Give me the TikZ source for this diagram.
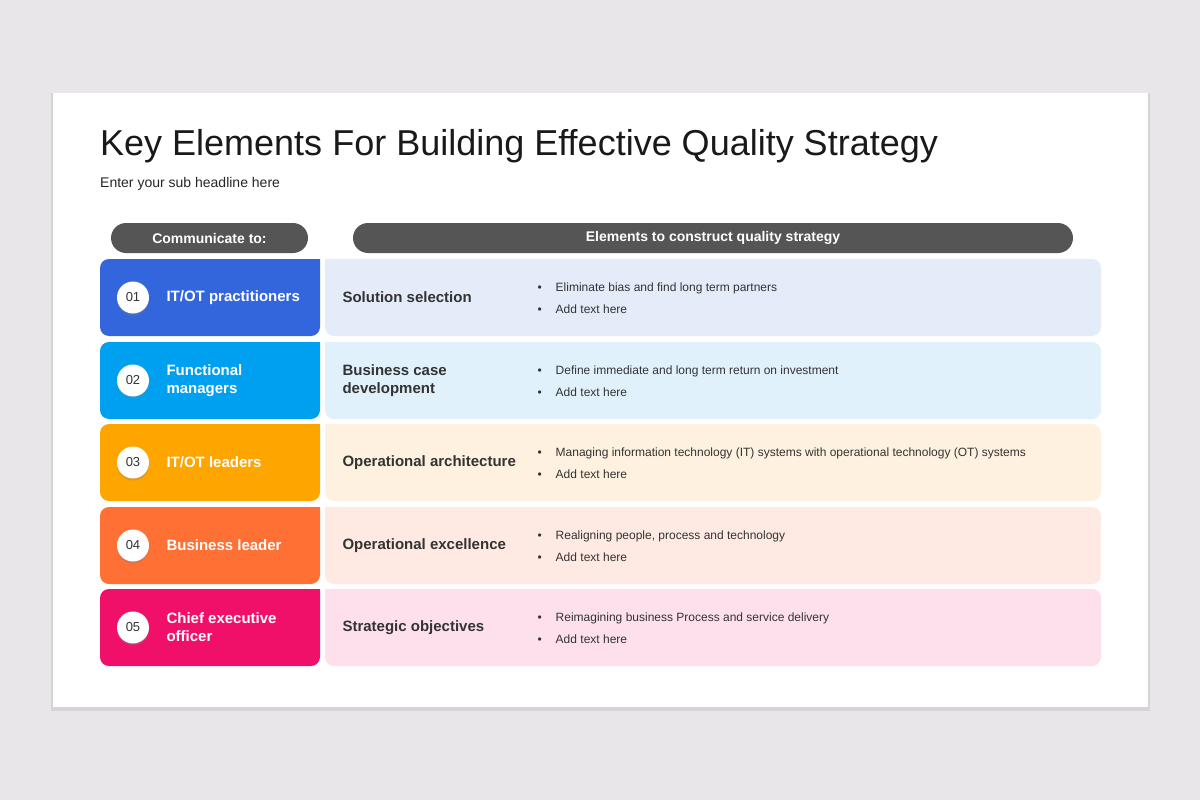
\documentclass[tikz,border=0pt]{standalone}
\usepackage{fontspec}
\setmainfont{Liberation Sans}
\usetikzlibrary{shadows,calc}
\definecolor{bgc}{HTML}{E8E6E8}
\definecolor{pill}{HTML}{555555}
\definecolor{ca}{HTML}{3366DD}\definecolor{la}{HTML}{E4ECFA}
\definecolor{cb}{HTML}{00A0F0}\definecolor{lb}{HTML}{E0F1FC}
\definecolor{cc}{HTML}{FFA500}\definecolor{lc}{HTML}{FEF1DF}
\definecolor{cd}{HTML}{FF7035}\definecolor{ld}{HTML}{FFEAE3}
\definecolor{ce}{HTML}{F0106A}\definecolor{le}{HTML}{FDE0EC}
\definecolor{txt}{HTML}{333333}
\tikzset{
 pillbox/.style={fill=pill,rounded corners=15pt,text=white,font=\fontsize{14}{16}\selectfont\bfseries},
 lefttxt/.style={anchor=west,text=white,align=left,font=\fontsize{15}{18}\selectfont\bfseries},
 righttitle/.style={anchor=west,text=txt,align=left,font=\fontsize{15}{18}\selectfont\bfseries},
 bul/.style={anchor=west,text=txt,font=\fontsize{12}{14}\selectfont},
 numc/.style={circle,fill=white,minimum size=32pt,inner sep=0pt,text=txt,font=\fontsize{13}{14}\selectfont,drop shadow={shadow xshift=0pt,shadow yshift=-2pt,opacity=0.3}},
}
\begin{document}
\begin{tikzpicture}[x=1pt,y=-1pt]
\useasboundingbox (0,0) rectangle (1200,800);
\fill[bgc] (0,0) rectangle (1200,800);
\fill[black,opacity=0.08] (51,93) rectangle (1150,711);
\fill[white] (53,93) rectangle (1148,707);
\node[anchor=base west,text=black!90,font=\fontsize{36}{40}\selectfont,inner sep=0] (title) at (100,155) {Key Elements For Building Effective Quality Strategy};
\node[anchor=base west,text=black!85,font=\fontsize{14}{16}\selectfont,inner sep=0] (sub) at (100,187) {Enter your sub headline here};
\fill[pillbox] (111,223) rectangle (308,253);
\node[text=white,font=\fontsize{14}{16}\selectfont\bfseries] (h1) at (209.5,238) {Communicate to:};
\fill[pillbox] (353,223) rectangle (1073,253);
\node[text=white,font=\fontsize{14}{16}\selectfont\bfseries] (h2) at (713,238) {Elements to construct quality strategy};
\foreach \t/\c/\l/\n/\lt/\rt/\ba in {
 259/ca/la/01/{IT/OT practitioners}/{Solution selection}/{Eliminate bias and find long term partners},
 342/cb/lb/02/{Functional\\managers}/{Business case\\development}/{Define immediate and long term return on investment},
 424/cc/lc/03/{IT/OT leaders}/{Operational architecture}/{Managing information technology (IT) systems with operational technology (OT) systems},
 507/cd/ld/04/{Business leader}/{Operational excellence}/{Realigning people, process and technology},
 589/ce/le/05/{Chief executive\\officer}/{Strategic objectives}/{Reimagining business Process and service delivery}}{
 \pgfmathsetmacro{\b}{\t+77}\pgfmathsetmacro{\m}{\t+38.5}
 \fill[\c,rounded corners=9pt] (100,\t) -- (100,\b) -- (320,\b) [sharp corners] -- (320,\t) [rounded corners=9pt] -- cycle;
 \fill[\l,rounded corners=9pt] (1101,\t) -- (1101,\b) -- (325,\b) [sharp corners] -- (325,\t) [rounded corners=9pt] -- cycle;
 \node[numc] (n\n) at (133,\m) {\n};
 \node[lefttxt] (l\n) at (163,\m) {\lt};
 \node[righttitle] (r\n) at (339,\m) {\rt};
 \node[bul] (a\n) at (534,\m-9) {•\hspace{14pt}\ba};
 \node[bul] (b\n) at (534,\m+12) {•\hspace{14pt}Add text here};
}
\end{tikzpicture}
\end{document}
